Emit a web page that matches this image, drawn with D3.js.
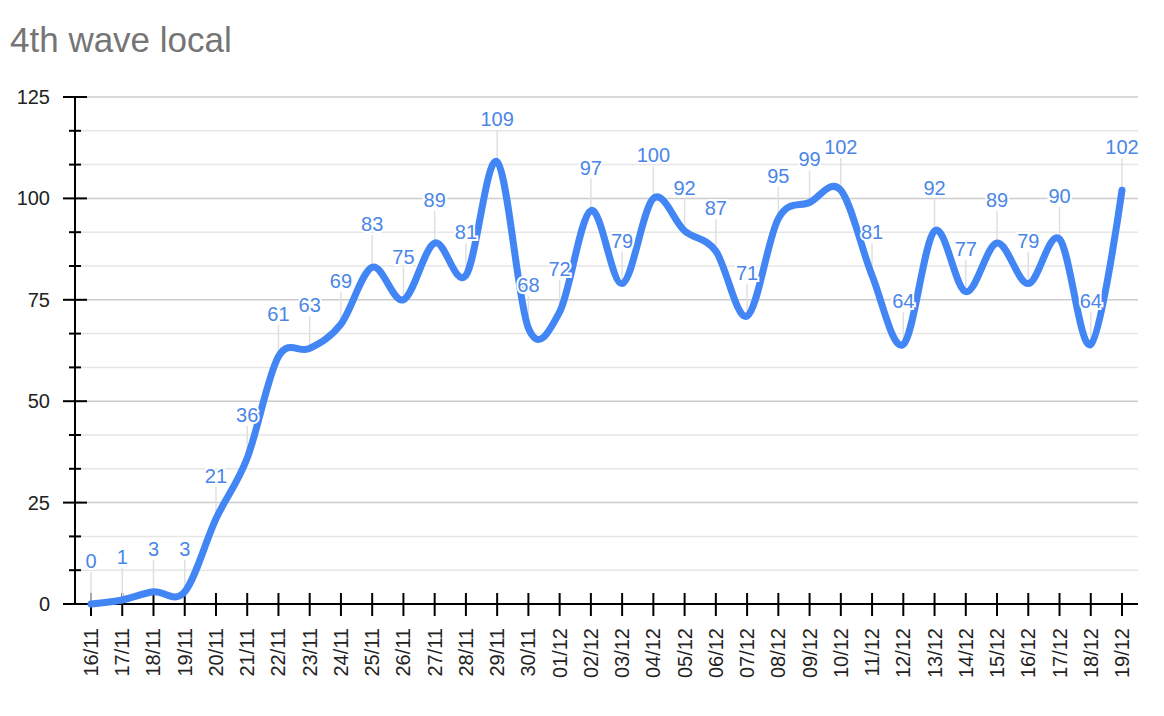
<!DOCTYPE html>
<html><head><meta charset="utf-8">
<script src="https://cdn.jsdelivr.net/npm/d3@7"></script>
<style>body{margin:0;background:#fff;font-family:"Liberation Sans",Arial,sans-serif}</style>
</head><body><svg id="c" width="1164" height="716"></svg>
<script>
const dates=["16/11","17/11","18/11","19/11","20/11","21/11","22/11","23/11","24/11","25/11","26/11","27/11","28/11","29/11","30/11","01/12","02/12","03/12","04/12","05/12","06/12","07/12","08/12","09/12","10/12","11/12","12/12","13/12","14/12","15/12","16/12","17/12","18/12","19/12"];
const cases=[0,1,3,3,21,36,61,63,69,83,75,89,81,109,68,72,97,79,100,92,87,71,95,99,102,81,64,92,77,89,79,90,64,102];
const yTicks=[0,25,50,75,100,125];
const title="4th wave local";

const svg=d3.select("#c");
const x=d3.scalePoint().domain(dates).range([91,1122]);
const y=d3.scaleLinear().domain([0,125]).range([604,97]);
const L=75,R=1138;
const minor=d3.range(0,125.01,25/3);
const isMajor=d=>yTicks.some(t=>Math.abs(t-d)<0.01);
const g=svg.append("g");
g.selectAll(".mg").data(minor).join("line").attr("x1",L).attr("x2",R)
 .attr("y1",d=>y(d)).attr("y2",d=>y(d)).attr("stroke",d=>isMajor(d)?"#ccc":"#e6e6e6").attr("stroke-width",1.5);
g.selectAll(".mt").data(minor).join("line").attr("x1",d=>isMajor(d)?63:69).attr("x2",d=>isMajor(d)?87:81)
 .attr("y1",d=>y(d)).attr("y2",d=>y(d)).attr("stroke","#000").attr("stroke-width",2);
g.append("line").attr("x1",L).attr("x2",L).attr("y1",y(125)).attr("y2",604).attr("stroke","#000").attr("stroke-width",2);
g.append("line").attr("x1",63).attr("x2",R).attr("y1",604).attr("y2",604).attr("stroke","#000").attr("stroke-width",2);
g.selectAll(".yl").data(yTicks).join("text").attr("x",50).attr("y",d=>y(d)+7).attr("text-anchor","end")
 .attr("font-size",20).attr("fill","#222").text(d=>d);
g.selectAll(".xt").data(dates).join("line").attr("x1",d=>x(d)).attr("x2",d=>x(d)).attr("y1",593).attr("y2",616).attr("stroke","#000").attr("stroke-width",2);
g.selectAll(".xl").data(dates).join("text").attr("transform",d=>`translate(${x(d)+7},628) rotate(-90)`)
 .attr("text-anchor","end").attr("font-size",20).attr("fill","#222").text(d=>d);
g.selectAll(".st").data(cases).join("line").attr("x1",(d,i)=>x(dates[i])).attr("x2",(d,i)=>x(dates[i]))
 .attr("y1",d=>y(d)).attr("y2",d=>y(d)-32).attr("stroke","#e0e0e0").attr("stroke-width",1.5);
const line=d3.line().x((d,i)=>x(dates[i])).y(d=>y(d)).curve(d3.curveCatmullRom.alpha(0));
g.append("path").datum(cases).attr("d",line).attr("fill","none").attr("stroke","#4285f4").attr("stroke-width",7).attr("stroke-linejoin","round").attr("stroke-linecap","round");
g.selectAll(".lb").data(cases).join("text").attr("x",(d,i)=>x(dates[i])).attr("y",d=>y(d)-36)
 .attr("text-anchor","middle").attr("font-size",20).attr("fill","#4a86e8")
 .attr("stroke","#fff").attr("stroke-width",4).attr("paint-order","stroke").text(d=>d);
svg.append("text").attr("x",10).attr("y",52).attr("font-size",35).attr("fill","#757575").text(title);
</script></body></html>
